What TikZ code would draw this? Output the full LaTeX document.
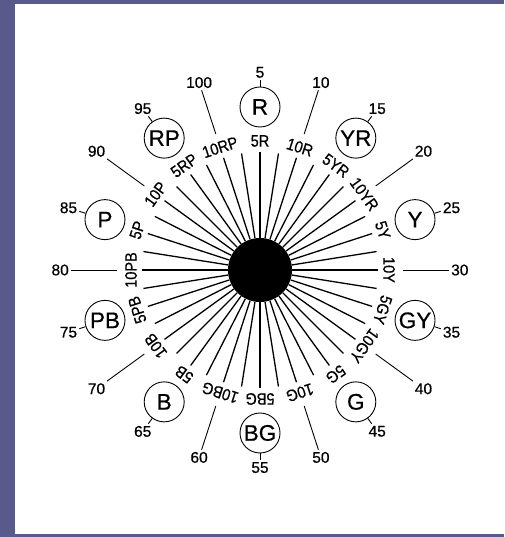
\documentclass[tikz,border=0pt]{standalone}
\usepackage{fontspec}
\setmainfont[FakeBold=0.6]{Liberation Sans}
\newfontfamily\huefont[FakeStretch=0.88,FakeBold=0.6]{Liberation Sans}
\definecolor{bgpurple}{RGB}{89,90,139}
\begin{document}
\begin{tikzpicture}[x=1pt,y=1pt,
  spoke/.style={line width=1.3pt},
  mainspoke/.style={line width=2.1pt},
  leader/.style={line width=0.9pt},
  huelbl/.style={font=\huefont\fontsize{16.5}{16.5}\selectfont, inner sep=0pt},
  numlbl/.style={font=\fontsize{15.5}{15.5}\selectfont, inner sep=2pt},
  huecirc/.style={circle, draw, line width=0.9pt, minimum size=40pt, inner sep=0pt,
                  font=\fontsize{22.5}{22.5}\selectfont}]
\fill[bgpurple] (0,0) rectangle (504,537);
\fill[white] (15,3) rectangle (504,533);
\useasboundingbox (0,0) rectangle (504,537);
\begin{scope}[shift={(260,267)}]
  \node[circle, fill=black, minimum size=64pt, inner sep=0pt] (hub) at (0,0) {};
  % spokes
  \foreach \i in {0,...,39} {
    \pgfmathtruncatemacro\a{90-9*\i}
    \coordinate (s\i) at (\a:118);
    \ifnum\i=0
      \draw[mainspoke] (hub) -- (s\i);
    \else\ifnum\i=20
      \draw[mainspoke] (hub) -- (s\i);
    \else
      \draw[spoke] (hub) -- (s\i);
    \fi\fi
  }
  % hue labels
  \foreach \lab [count=\k from 0] in {5R,10R,5YR,10YR,5Y,10Y,5GY,10GY,5G,10G,5BG,10BG,5B,10B,5PB,10PB,5P,10P,5RP,10RP} {
    \pgfmathtruncatemacro\a{90-18*\k}
    \pgfmathtruncatemacro\r{\a-90}
    \node[huelbl, rotate=\r] (h\k) at (\a:129) {\lab};
  }
  % hue circles with their numbers
  \foreach \name/\num [count=\j from 0] in {R/5,YR/15,Y/25,GY/35,G/45,BG/55,B/65,PB/75,P/85,RP/95} {
    \pgfmathtruncatemacro\a{90-36*\j}
    \pgfmathtruncatemacro\b{mod(\a+540,360)}
    \node[huecirc] (c\j) at (\a:163) {\name};
    \coordinate (t\j) at (\a:190);
    \draw[leader] (c\j) -- (t\j);
    \node[numlbl, anchor=\b] (n\num) at (t\j) {\num};
  }
  % leaders with even numbers
  \foreach \num [count=\j from 0] in {10,20,30,40,50,60,70,80,90,100} {
    \pgfmathtruncatemacro\a{72-36*\j}
    \pgfmathtruncatemacro\b{mod(\a+540,360)}
    \coordinate (la\j) at (\a:143);
    \coordinate (lb\j) at (\a:189);
    \draw[leader] (la\j) -- (lb\j);
    \node[numlbl, anchor=\b] (n\num) at (lb\j) {\num};
  }
\end{scope}
\end{tikzpicture}
\end{document}
